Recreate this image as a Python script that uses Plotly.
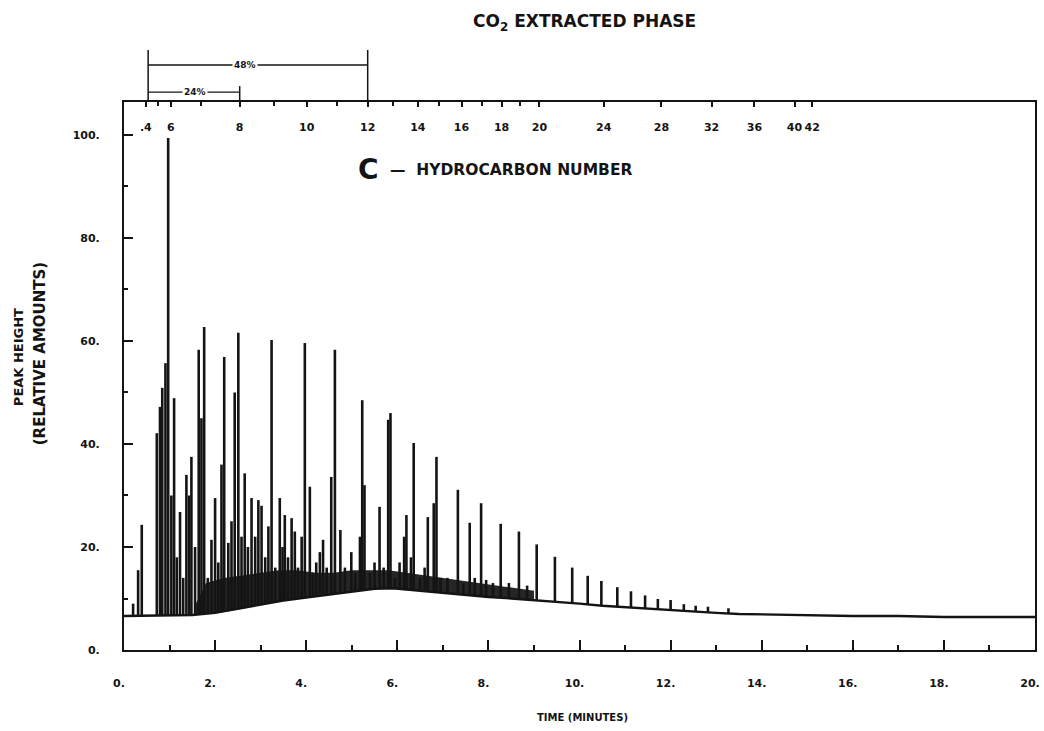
import numpy as np
import plotly.graph_objects as go

# ---------------- data ----------------
# time axis (minutes) tick labels
x_tick_vals = [0, 2, 4, 6, 8, 10, 12, 14, 16, 18, 20]
x_tick_text = ["0.", "2.", "4.", "6.", "8.", "10.", "12.", "14.", "16.", "18.", "20."]
y_tick_vals = [0, 20, 40, 60, 80, 100]
y_tick_text = ["0.", "20.", "40.", "60.", "80.", "100."]

# carbon-number scale on top (retention time of each n-alkane)
carbon_numbers = [4, 5, 6, 7, 8, 9, 10, 11, 12, 13, 14, 15, 16, 17, 18, 19, 20, 24, 28, 32, 36, 40, 42]
carbon_times = [0.48, 0.75, 1.03, 1.69, 2.54, 3.29, 4.01, 4.67, 5.35, 5.90, 6.45, 6.91, 7.41,
                7.87, 8.29, 8.70, 9.12, 10.53, 11.80, 12.90, 13.84, 14.72, 15.11]
carbon_labels = [".4", "", "6", "", "8", "", "10", "", "12", "", "14", "", "16",
                 "", "18", "", "20", "24", "28", "32", "36", "40", "42"]

# peak apexes (time in minutes, relative peak height)
peak_times = [0.20, 0.31, 0.39, 0.72, 0.79, 0.84, 0.91, 0.97, 1.04, 1.10, 1.16, 1.23, 1.30,
              1.37, 1.43, 1.48, 1.56, 1.64, 1.70, 1.76, 1.84, 1.92, 2.00, 2.07, 2.14, 2.20,
              2.29, 2.36, 2.43, 2.51, 2.58, 2.65, 2.72, 2.80, 2.88, 2.95, 3.02, 3.10, 3.17,
              3.24, 3.32, 3.42, 3.48, 3.53, 3.60, 3.68, 3.75, 3.82, 3.90, 3.97, 4.08, 4.15,
              4.22, 4.30, 4.37, 4.45, 4.55, 4.63, 4.75, 4.85, 4.99, 5.08, 5.18, 5.23, 5.28,
              5.40, 5.50, 5.61, 5.70, 5.80, 5.85, 5.95, 6.05, 6.15, 6.20, 6.30, 6.36, 6.50,
              6.60, 6.67, 6.80, 6.86, 6.95, 7.10, 7.33, 7.45, 7.59, 7.70, 7.84, 7.95, 8.10,
              8.27, 8.45, 8.67, 8.85, 9.06, 9.46, 9.84, 10.18, 10.48, 10.83, 11.13, 11.44,
              11.72, 12.00, 12.29, 12.55, 12.82, 13.27]
peak_heights = [9.0, 15.5, 24.3, 42.1, 47.2, 50.9, 55.7, 99.4, 30.0, 48.9, 18.0, 26.8, 14.0,
                34.0, 30.0, 37.5, 20.0, 58.3, 45.0, 62.7, 14.0, 21.4, 29.5, 17.0, 36.0, 56.9,
                20.8, 25.0, 50.0, 61.6, 22.0, 34.3, 20.0, 29.5, 22.0, 29.1, 28.0, 18.0, 24.0,
                60.2, 16.0, 29.5, 20.0, 26.2, 18.0, 25.6, 23.0, 16.0, 22.0, 59.6, 31.7, 15.0,
                17.0, 19.0, 21.4, 16.0, 33.6, 58.3, 23.3, 16.0, 19.0, 15.0, 22.0, 48.5, 32.0,
                15.0, 17.0, 27.8, 16.0, 44.7, 46.0, 14.0, 17.0, 22.0, 26.2, 18.0, 40.2, 14.0,
                16.0, 25.8, 28.5, 37.5, 14.0, 14.0, 31.1, 13.0, 24.7, 14.0, 28.5, 13.6, 13.0,
                24.5, 13.0, 23.0, 12.5, 20.5, 18.1, 16.0, 14.4, 13.4, 12.2, 11.4, 10.6,
                9.9, 9.7, 8.9, 8.6, 8.4, 8.1]

# baseline (unresolved hump) under the peaks
base_times = [0.0, 1.5, 2.0, 2.5, 3.0, 3.5, 4.0, 4.5, 5.0, 5.5, 5.9, 6.4, 7.0, 7.5, 8.0, 8.5,
              9.0, 9.5, 10.0, 10.5, 11.0, 11.5, 12.0, 12.5, 13.0, 13.5, 14.0, 15.0, 16.0,
              17.0, 18.0, 19.0, 20.0]
base_levels = [6.6, 6.8, 7.2, 8.0, 8.8, 9.6, 10.2, 10.8, 11.4, 11.9, 12.0, 11.6, 11.0, 10.6,
               10.3, 10.0, 9.7, 9.3, 9.0, 8.6, 8.3, 8.0, 7.7, 7.4, 7.2, 7.0, 6.9, 6.7, 6.6,
               6.6, 6.4, 6.4, 6.4]

# dense band of small unresolved peaks riding on the baseline
noise_times = [1.55, 1.8, 2.2, 2.6, 3.0, 3.4, 3.8, 4.2, 4.6, 5.0, 5.4, 5.8, 6.2, 6.6, 7.0,
               7.4, 7.8, 8.2, 8.6, 9.0]
noise_low = [6.8, 7.0, 7.4, 8.0, 8.8, 9.4, 10.0, 10.5, 11.0, 11.4, 11.8, 12.0, 11.8, 11.4,
             11.0, 10.7, 10.4, 10.1, 9.9, 9.7]
noise_high = [8.5, 13.0, 14.0, 14.5, 15.0, 15.5, 15.5, 15.0, 15.0, 15.5, 15.5, 15.5, 15.0,
              14.5, 14.0, 13.5, 13.0, 12.5, 12.0, 11.5]

# extraction brackets (percent of sample up to a carbon number)
bracket_labels = ["48%", "24%"]
bracket_end_carbon = [12, 8]
bracket_start_time = 0.53

INK = "#141414"
FONT = "DejaVu Sans"
Y_TOP = 106.4

# ---------------- build traces ----------------
sx, sy = [], []
for t, h in zip(peak_times, peak_heights):
    foot = float(np.interp(t, base_times, base_levels))
    sx += [t, t, None]
    sy += [foot, h, None]

major_c = [(t, lab) for t, lab in zip(carbon_times, carbon_labels) if lab]
minor_c = [t for t, lab in zip(carbon_times, carbon_labels) if not lab]

fig = go.Figure()
fig.add_trace(go.Scatter(
    x=noise_times + noise_times[::-1], y=noise_high + noise_low[::-1],
    fill="toself", fillcolor="#262626", line=dict(width=0), mode="lines",
    hoverinfo="skip", showlegend=False))
fig.add_trace(go.Scatter(x=base_times, y=base_levels, mode="lines",
                         line=dict(color=INK, width=2.4), hoverinfo="skip", showlegend=False))
fig.add_trace(go.Scatter(x=sx, y=sy, mode="lines", line=dict(color=INK, width=2.6),
                         hoverinfo="skip", showlegend=False, connectgaps=False))
# dummy trace to carry the top carbon-number axis
fig.add_trace(go.Scatter(x=[0, 20], y=[None, None], xaxis="x2", mode="lines",
                         hoverinfo="skip", showlegend=False))

tickfont = dict(family=FONT, size=11, color=INK, weight="bold")

fig.update_layout(
    width=1044, height=731,
    margin=dict(l=124, r=9, t=102, b=81, autoexpand=False),
    paper_bgcolor="white", plot_bgcolor="white",
    title=dict(text="CO<sub>2</sub> EXTRACTED PHASE", x=0.56, xanchor="center",
               y=0.971, yanchor="middle",
               font=dict(family=FONT, size=17, color=INK, weight="bold")),
    xaxis=dict(range=[0, 20], tickmode="array", tickvals=x_tick_vals, ticktext=x_tick_text,
               ticks="inside", ticklen=10, tickwidth=2, tickcolor=INK,
               minor=dict(dtick=1, tick0=0, ticks="inside", ticklen=5, tickwidth=2,
                          tickcolor=INK),
               showline=True, linewidth=2, linecolor=INK, mirror=True, automargin=False,
               showgrid=False, zeroline=False, tickfont=tickfont, ticklabelstandoff=22,
               ticklabelshift=-5),
    xaxis2=dict(range=[0, 20], overlaying="x", side="top", tickmode="array",
                tickvals=[c[0] for c in major_c], ticktext=[c[1] for c in major_c],
                minor=dict(tickmode="array", tickvals=minor_c, ticks="inside", ticklen=4,
                           tickwidth=2, tickcolor=INK),
                ticks="inside", ticklen=5, tickwidth=2, tickcolor=INK, automargin=False,
                ticklabelposition="inside", showline=True, linewidth=2, linecolor=INK,
                showgrid=False, zeroline=False, tickfont=tickfont, ticklabelstandoff=16),
    yaxis=dict(range=[0, Y_TOP], tickmode="array", tickvals=y_tick_vals,
               ticktext=y_tick_text, ticks="inside", ticklen=9, tickwidth=2, tickcolor=INK,
               minor=dict(dtick=10, tick0=0, ticks="inside", ticklen=4, tickwidth=2,
                          tickcolor=INK),
               showline=True, linewidth=2, linecolor=INK, mirror=True, automargin=False,
               showgrid=False, zeroline=False, tickfont=tickfont, ticklabelstandoff=20),
)

ann = []
# axis titles
ann.append(dict(text="TIME (MINUTES)", x=0.503, y=-0.124, xref="paper", yref="paper",
                xanchor="center", yanchor="middle", showarrow=False,
                font=dict(family=FONT, size=10, color=INK, weight="bold")))
ann.append(dict(text="PEAK HEIGHT", x=-0.116, y=0.535, xref="paper", yref="paper",
                xanchor="center", yanchor="middle", textangle=-90, showarrow=False,
                font=dict(family=FONT, size=13, color=INK, weight="bold")))
ann.append(dict(text="(RELATIVE AMOUNTS)", x=-0.092, y=0.54, xref="paper", yref="paper",
                xanchor="center", yanchor="middle", textangle=-90, showarrow=False,
                font=dict(family=FONT, size=15, color=INK, weight="bold")))
# C - hydrocarbon number legend text
ann.append(dict(text="C", x=0.2686, y=0.876, xref="paper", yref="paper",
                xanchor="center", yanchor="middle", showarrow=False,
                font=dict(family=FONT, size=28, color=INK, weight="bold")))
ann.append(dict(text="\u2014  HYDROCARBON NUMBER", x=0.2895, y=0.876, xref="paper",
                yref="paper", xanchor="left", yanchor="middle", showarrow=False,
                font=dict(family=FONT, size=15.5, color=INK, weight="bold")))

# brackets above the plot
bracket_y = [1.0675, 1.018]
bracket_top = [1.095, 1.029]
bracket_label_pos = [2.66, 1.55]
shapes = []
ax_, ay_, sym_ = [], [], []
for lab, cend, by, btop, lpos in zip(bracket_labels, bracket_end_carbon, bracket_y,
                                      bracket_top, bracket_label_pos):
    tend = carbon_times[carbon_numbers.index(cend)]
    shapes.append(dict(type="line", xref="x", yref="paper", x0=tend, x1=tend,
                       y0=1.0, y1=btop, line=dict(color=INK, width=1.5)))
    if lab == bracket_labels[0]:
        shapes.append(dict(type="line", xref="x", yref="paper", x0=bracket_start_time,
                           x1=bracket_start_time, y0=1.0, y1=btop,
                           line=dict(color=INK, width=1.5)))
    shapes.append(dict(type="line", xref="x", yref="paper", x0=bracket_start_time,
                       x1=tend, y0=by, y1=by, line=dict(color=INK, width=1.4)))
    ax_ += [bracket_start_time + 0.09, tend - 0.09]
    ay_ += [by * Y_TOP, by * Y_TOP]
    sym_ += ["triangle-left", "triangle-right"]
    ann.append(dict(text=lab, x=lpos, y=by, xref="x", yref="paper", showarrow=False,
                    xanchor="center", yanchor="middle", bgcolor="white", borderpad=1,
                    font=dict(family=FONT, size=9, color=INK, weight="bold")))

fig.add_trace(go.Scatter(x=ax_, y=ay_, mode="markers", cliponaxis=False,
                         marker=dict(symbol=sym_, size=6, color=INK),
                         hoverinfo="skip", showlegend=False))

fig.update_layout(annotations=ann, shapes=shapes)
fig.write_html("out.html", config={"displayModeBar": False},
               post_script="document.body.style.margin='0px';"
                           "document.body.style.overflow='hidden';")
